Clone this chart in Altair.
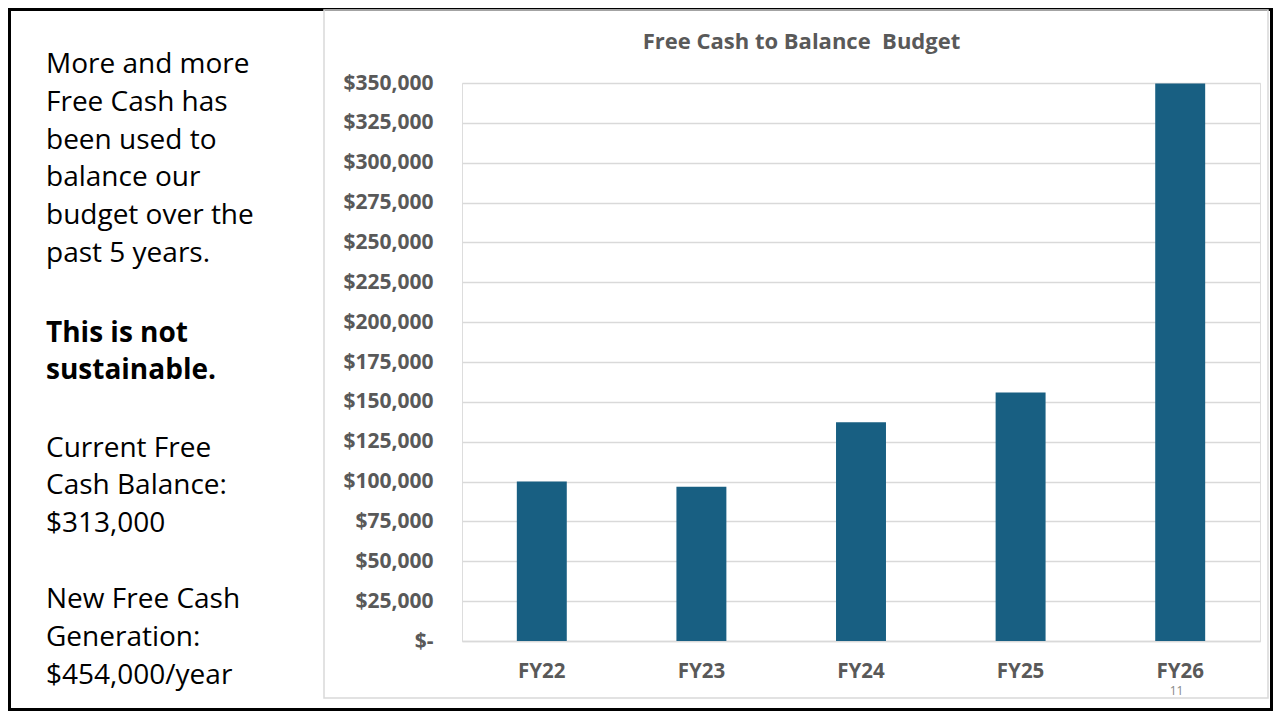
import altair as alt
import pandas as pd

# ---- data ----
years = ["FY22", "FY23", "FY24", "FY25", "FY26"]
free_cash_used = [100000, 96800, 137200, 155800, 349700]
y_ticks = [0, 25000, 50000, 75000, 100000, 125000, 150000, 175000,
           200000, 225000, 250000, 275000, 300000, 325000, 350000]

chart_title = "Free Cash to Balance\u00a0 Budget"
page_number = "11"
block1 = ["More and more", "Free Cash has", "been used to",
          "balance our", "budget over the", "past 5 years."]
block2 = ["This is not", "sustainable."]
block3 = ["Current Free", "Cash Balance:", "$313,000"]
block4 = ["New Free Cash", "Generation:", "$454,000/year"]

df = pd.DataFrame({"year": years, "value": free_cash_used})

FONT = "Open Sans"
GRAY = "#595959"
GRID = "#d9d9d9"
BAR = "#185f82"

PLOT_W, PLOT_H = 798, 558
PAD_L, PAD_T = 454, 75

one = alt.Data(values=[{}])

bars = alt.Chart(df).mark_bar(color=BAR).encode(
    x=alt.X("year:N", sort=years, title=None,
            scale=alt.Scale(paddingInner=0.687, paddingOuter=0.3435),
            axis=alt.Axis(labelAngle=0, ticks=False, domain=True,
                          domainColor=GRID, domainWidth=1.5,
                          labelPadding=20, labelFontSize=20.5,
                          labelFont=FONT, labelFontWeight="bold",
                          labelColor=GRAY)),
    y=alt.Y("value:Q", title=None,
            scale=alt.Scale(domain=[0, 350000], nice=False),
            axis=alt.Axis(values=y_ticks, grid=True, gridColor=GRID,
                          gridWidth=1.5, domain=False, ticks=False,
                          labelPadding=29, labelFontSize=21,
                          labelFont=FONT, labelFontWeight="bold",
                          labelColor=GRAY,
                          labelExpr="datum.value == 0 ? '$-\u00a0\u00a0' : format(datum.value, '$,')")),
)

def text_block(lines, x, y, size=28, weight="normal", color="black",
               align="left", font=FONT, line_h=37.8):
    return alt.Chart(one).mark_text(
        align=align, baseline="alphabetic", font=font, fontSize=size,
        fontWeight=weight, color=color, lineHeight=line_h,
    ).encode(x=alt.value(x), y=alt.value(y), text=alt.value(lines))

LX = 46 - 8 - PAD_L
left1 = text_block(block1, LX, 73 - 8 - PAD_T)
left2 = text_block(block2, LX, 341.7 - 8 - PAD_T, weight="bold")
left3 = text_block(block3, LX, 456.7 - 8 - PAD_T)
left4 = text_block(block4, LX, 608 - 8 - PAD_T)

title = alt.Chart(one).mark_text(
    align="center", baseline="alphabetic", font=FONT, fontSize=22,
    fontWeight="bold", color=GRAY,
).encode(x=alt.value(801.5 - 8 - PAD_L), y=alt.value(48.5 - 8 - PAD_T),
         text=alt.value(chart_title))

pnum = alt.Chart(one).mark_text(
    align="center", baseline="alphabetic", font=FONT, fontSize=12,
    color="#888888",
).encode(x=alt.value(1176.5 - 8 - PAD_L), y=alt.value(695 - 8 - PAD_T),
         text=alt.value(page_number))

chart_box = alt.Chart(one).mark_rect(
    filled=False, stroke=GRID, strokeWidth=1.5,
).encode(x=alt.value(324 - 8 - PAD_L), x2=alt.value(1268 - 8 - PAD_L),
         y=alt.value(10 - 8 - PAD_T), y2=alt.value(698 - 8 - PAD_T))

outer_box = alt.Chart(one).mark_rect(
    filled=False, stroke="black", strokeWidth=3,
).encode(x=alt.value(1.5 - PAD_L), x2=alt.value(1263.5 - PAD_L),
         y=alt.value(1.5 - PAD_T), y2=alt.value(701.5 - PAD_T))

chart = alt.layer(
    outer_box, chart_box, bars, title, pnum, left1, left2, left3, left4
).properties(
    width=PLOT_W, height=PLOT_H,
    autosize=alt.AutoSizeParams(type="none"),
    padding={"left": PAD_L, "top": PAD_T, "right": 13, "bottom": 70},
).configure_view(stroke=None).configure(background="white")

chart.save("out.html", embed_options={"renderer": "svg", "actions": False})
